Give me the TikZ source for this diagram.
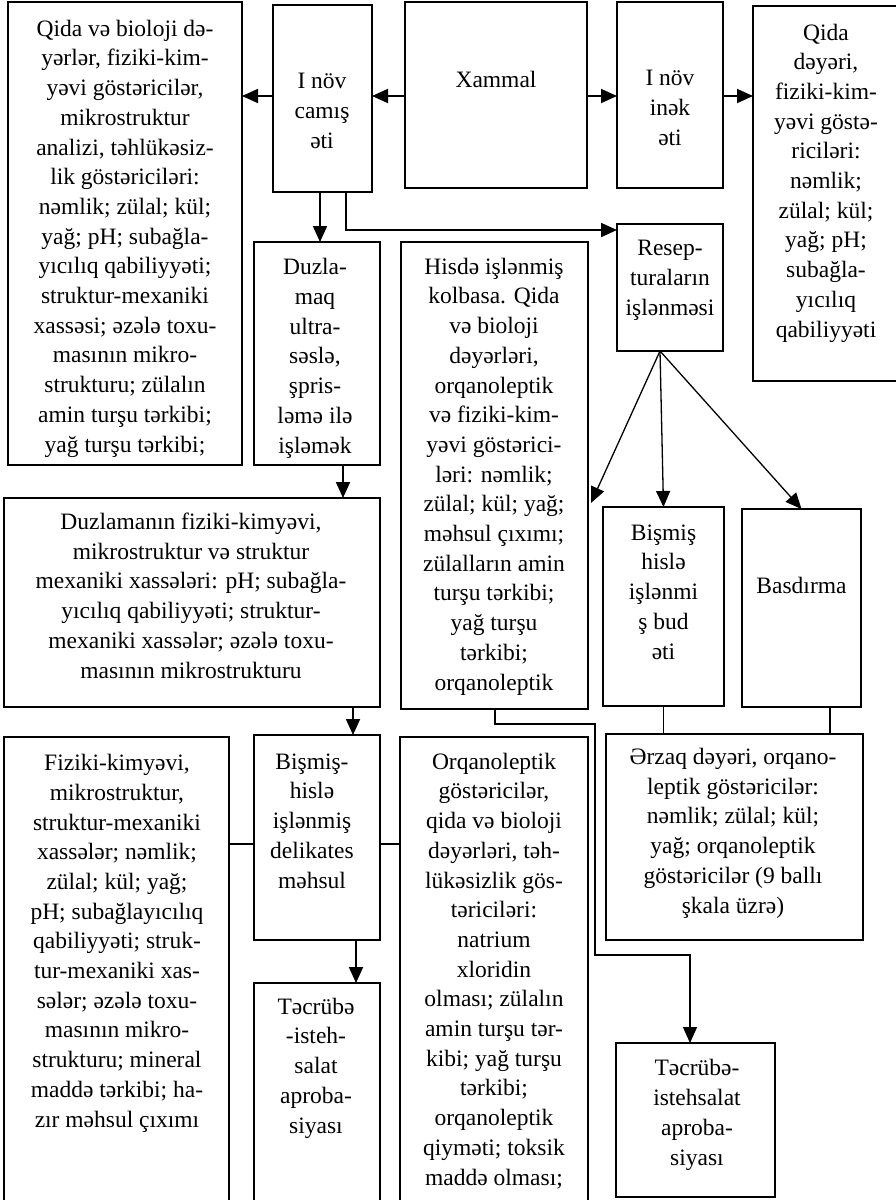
\documentclass[tikz,border=0pt]{standalone}
\usepackage{fontspec}
\setmainfont{Liberation Serif}
\usetikzlibrary{arrows.meta,calc}
\tikzset{
 box/.style={draw, line width=2pt, inner sep=0pt, outer sep=0pt},
 txt/.style={align=center, inner sep=0pt, anchor=base, font=\fontsize{23.5}{29.7}\selectfont},
 arr/.style={line width=1.8pt, -{Triangle[length=16pt,width=14pt]}},
 thinline/.style={line width=1.3pt},
 thinarr/.style={line width=1.3pt, -{Triangle[length=16pt,width=14pt]}},
}
\newcommand{\mybox}[5]{\node[box,anchor=north west,minimum width={(#4-#2)*1pt},minimum height={(#5-#3)*1pt}] (#1) at (#2,#3) {};}
\begin{document}
\begin{tikzpicture}[x=1pt,y=-1pt]
\useasboundingbox (0,0) rectangle (896,1200);
\clip (0,0) rectangle (896,1200);
% boxes
\mybox{A}{8}{2}{242}{465}
\mybox{B}{273}{5}{372}{192}
\mybox{X}{405}{2}{587}{188}
\mybox{C}{617}{2}{723}{188}
\mybox{R}{753}{6}{905}{381}
\mybox{D}{254}{242}{380}{465}
\mybox{H}{401}{242}{588}{709}
\mybox{P}{617}{224}{723}{351}
\mybox{E}{4}{498}{380}{707}
\mybox{F}{603}{507}{724}{706}
\mybox{G}{742}{509}{861}{707}
\mybox{K}{606}{734}{863}{940}
\mybox{L}{4}{737}{229}{1215}
\mybox{M}{254}{735}{380}{940}
\mybox{N}{254}{983}{380}{1215}
\mybox{O}{400}{737}{588}{1215}
\mybox{T}{616}{1043}{775}{1197}
% texts (anchor = baseline of last line)
\node[txt] (At) at (125,452) {Qida və bioloji də-\\yərlər, fiziki-kim-\\yəvi göstəricilər,\\mikrostruktur\\analizi, təhlükəsiz-\\lik göstəriciləri:\\nəmlik; zülal; kül;\\yağ; pH; subağla-\\yıcılıq qabiliyyəti;\\struktur-mexaniki\\xassəsi; əzələ toxu-\\masının mikro-\\strukturu; zülalın\\amin turşu tərkibi;\\yağ turşu tərkibi;};
\node[txt] (Bt) at (322,148) {I növ\\camış\\əti};
\node[txt] (Xt) at (496,87) {Xammal};
\node[txt] (Ct) at (670,145) {I növ\\inək\\əti};
\node[txt] (Rt) at (826,337) {Qida\\dəyəri,\\fiziki-kim-\\yəvi göstə-\\riciləri:\\nəmlik;\\zülal; kül;\\yağ; pH;\\subağla-\\yıcılıq\\qabiliyyəti};
\node[txt] (Pt) at (670,315) {Resep-\\turaların\\işlənməsi};
\node[txt] (Dt) at (315,453) {Duzla-\\maq\\ultra-\\səslə,\\şpris-\\ləmə ilə\\işləmək};
\node[txt] (Ht) at (494,690) {Hisdə işlənmiş\\kolbasa. Qida\\və bioloji\\dəyərləri,\\orqanoleptik\\və fiziki-kim-\\yəvi göstərici-\\ləri: nəmlik;\\zülal; kül; yağ;\\məhsul çıxımı;\\zülalların amin\\turşu tərkibi;\\yağ turşu\\tərkibi;\\orqanoleptik};
\node[txt] (Et) at (191,678) {Duzlamanın fiziki-kimyəvi,\\mikrostruktur və struktur\\mexaniki xassələri: pH; subağla-\\yıcılıq qabiliyyəti; struktur-\\mexaniki xassələr; əzələ toxu-\\masının mikrostrukturu};
\node[txt] (Ft) at (663.5,659) {Bişmiş\\hislə\\işlənmi\\ş bud\\əti};
\node[txt] (Gt) at (801.5,593) {Basdırma};
\node[txt] (Kt) at (733,913) {Ərzaq dəyəri, orqano-\\leptik göstəricilər:\\nəmlik; zülal; kül;\\yağ; orqanoleptik\\göstəricilər (9 ballı\\şkala üzrə)};
\node[txt] (Lt) at (117,1127) {Fiziki-kimyəvi,\\mikrostruktur,\\struktur-mexaniki\\xassələr; nəmlik;\\zülal; kül; yağ;\\pH; subağlayıcılıq\\qabiliyyəti; struk-\\tur-mexaniki xas-\\sələr; əzələ toxu-\\masının mikro-\\strukturu; mineral\\maddə tərkibi; ha-\\zır məhsul çıxımı};
\node[txt] (Mt) at (312,888) {Bişmiş-\\hislə\\işlənmiş\\delikates\\məhsul};
\node[txt] (Nt) at (316,1133) {Təcrübə\\-isteh-\\salat\\aproba-\\siyası};
\node[txt] (Ot) at (494,1185) {Orqanoleptik\\göstəricilər,\\qida və bioloji\\dəyərləri, təh-\\lükəsizlik gös-\\təriciləri:\\natrium\\xloridin\\olması; zülalın\\amin turşu tər-\\kibi; yağ turşu\\tərkibi;\\orqanoleptik\\qiyməti; toksik\\maddə olması;};
\node[txt] (Tt) at (697,1165) {Təcrübə-\\istehsalat\\aproba-\\siyası};
% helper coordinates
\coordinate (h96) at (0,96);
\coordinate (h230) at (0,230);
\coordinate (h724) at (0,724);
\coordinate (h955) at (0,955);
\coordinate (h844) at (0,844);
\coordinate (v320) at (320,0);
\coordinate (v346) at (346,0);
\coordinate (v343) at (343,0);
\coordinate (v353) at (353,0);
\coordinate (v356) at (356,0);
\coordinate (v495) at (495,0);
\coordinate (v595) at (595,0);
\coordinate (v690) at (690,0);
\coordinate (v660) at (660,0);
\coordinate (v830) at (830,0);
\coordinate (hin) at (591,503);
% connectors
\draw[arr] (B.west |- h96) -- (A.east |- h96);
\draw[arr] (X.west |- h96) -- (B.east |- h96);
\draw[arr] (X.east |- h96) -- (C.west |- h96);
\draw[arr] (C.east |- h96) -- (R.west |- h96);
\draw[arr] (B.south -| v320) -- (D.north -| v320);
\draw[arr] (B.south -| v346) |- (P.west |- h230);
\draw[arr] (D.south -| v343) -- (E.north -| v343);
\draw[arr] (E.south -| v353) -- (M.north -| v353);
\draw[arr] (M.south -| v356) -- (N.north -| v356);
\draw[thinarr] (P.south -| v660) -- (hin);
\draw[thinarr] (P.south -| v660) -- (F.north);
\draw[thinarr] (P.south -| v660) -- (G.north);
\draw[thinline] (F.south) -- (K.north -| F.south);
\draw[thinline] (G.south -| v830) -- (K.north -| v830);
\draw[thinarr] (H.south -| v495) |- (v595 |- h724) |- (v690 |- h955) -- (T.north -| v690);
\draw[thinline] (M.west |- h844) -- (L.east |- h844);
\draw[thinline] (M.east |- h844) -- (O.west |- h844);
\end{tikzpicture}
\end{document}
